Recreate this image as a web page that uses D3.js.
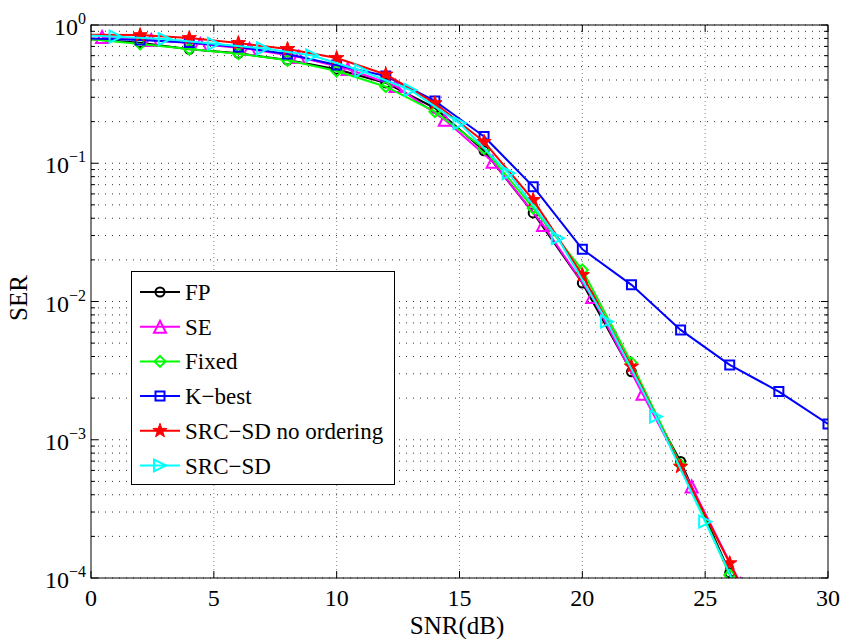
<!DOCTYPE html>
<html><head><meta charset="utf-8">
<script src="https://cdn.jsdelivr.net/npm/d3@7"></script>
<style>body{margin:0;background:#fff}</style>
</head><body>
<svg id="chart" width="843" height="639"></svg>
<script>
// ---- data ----
const xTicks = [0, 5, 10, 15, 20, 25, 30];
const yDecades = [0, -1, -2, -3, -4];
const seriesNames = ["FP", "SE", "Fixed", "K\u2212best", "SRC\u2212SD no ordering", "SRC\u2212SD"];

const snrFP = [0, 2, 4, 6, 8, 10, 12, 14, 16, 18, 20, 22, 24, 26, 28];
const serFP = [0.79, 0.745, 0.667, 0.624, 0.558, 0.478, 0.381, 0.251, 0.123, 0.0437, 0.0136, 0.0031, 0.000696, 0.000109, 0.000017];

const snrSE = [0.45, 2.45, 4.45, 6.45, 8.45, 10.45, 12.4, 14.4, 16.35, 18.4, 20.4, 22.45, 24.45, 26.45];
const serSE = [0.819, 0.779, 0.729, 0.671, 0.587, 0.481, 0.362, 0.206, 0.1027, 0.0358, 0.0108, 0.00215, 0.000459, 0.00009];

const snrFixed = [0, 2, 4, 6, 8, 10, 12, 14, 16, 18, 20, 22, 24, 26, 28];
const serFixed = [0.79, 0.73, 0.67, 0.62, 0.555, 0.465, 0.358, 0.236, 0.128, 0.0473, 0.0169, 0.0036, 0.00066, 0.000105, 0.00002];

const snrKbest = [0, 2, 4, 6, 8, 10, 12, 14, 16, 18, 20, 22, 24, 26, 28, 30];
const serKbest = [0.80, 0.779, 0.747, 0.693, 0.617, 0.514, 0.428, 0.282, 0.156, 0.0677, 0.0239, 0.0132, 0.00623, 0.00348, 0.00223, 0.0013];

const snrNoOrd = [0, 2, 4, 6, 8, 10, 12, 14, 16, 18, 20, 22, 24, 26, 28];
const serNoOrd = [0.85, 0.845, 0.805, 0.741, 0.671, 0.577, 0.439, 0.272, 0.143, 0.0543, 0.01556, 0.00339, 0.00064, 0.000128, 0.000025];

const snrSRC = [0, 1, 3, 5, 7, 9, 11, 13, 15, 17, 19, 21, 23, 25, 27];
const serSRC = [0.84, 0.823, 0.792, 0.731, 0.678, 0.602, 0.467, 0.339, 0.195, 0.0847, 0.0287, 0.00716, 0.00147, 0.000256, 0.000045];

const colors = ["#000000", "#ff00ff", "#00ff00", "#0000ff", "#ff0000", "#00ffff"];
const markerKinds = ["circle", "triup", "diamond", "square", "star", "triright"];

const series = [
  {x: snrFP, y: serFP}, {x: snrSE, y: serSE}, {x: snrFixed, y: serFixed},
  {x: snrKbest, y: serKbest}, {x: snrNoOrd, y: serNoOrd}, {x: snrSRC, y: serSRC}
].map((s, i) => ({name: seriesNames[i], color: colors[i], marker: markerKinds[i],
  pts: s.x.map((v, j) => ({x: v, y: s.y[j]}))}));

// ---- layout ----
const L = 91, R = 828, T = 25, B = 578;
const svg = d3.select("#chart");
const xS = d3.scaleLinear().domain([0, 30]).range([L, R]);
const yS = d3.scaleLog().domain([1e-4, 1]).range([B, T]);
const font = "'Liberation Serif', 'Times New Roman', serif";

svg.append("defs").append("clipPath").attr("id", "clip")
  .append("rect").attr("x", L).attr("y", T).attr("width", R - L).attr("height", B - T);

// grid
const minorVals = [];
for (let e = -4; e < 0; e++) for (let k = 1; k <= 9; k++) minorVals.push(k * Math.pow(10, e));
minorVals.push(1);
const grid = svg.append("g");
grid.selectAll("line.h").data(minorVals).join("line")
  .attr("x1", L).attr("x2", R).attr("y1", d => yS(d)).attr("y2", d => yS(d))
  .attr("stroke", "#333").attr("stroke-width", 1).attr("stroke-dasharray", "1,6");
grid.selectAll("line.v").data(xTicks.slice(1, -1)).join("line")
  .attr("y1", T).attr("y2", B).attr("x1", d => xS(d)).attr("x2", d => xS(d))
  .attr("stroke", "#888").attr("stroke-width", 1).attr("stroke-dasharray", "1,3");

// ticks (inside, all four sides)
const tk = svg.append("g").attr("stroke", "#000").attr("stroke-width", 1);
xTicks.forEach(v => {
  tk.append("line").attr("x1", xS(v)).attr("x2", xS(v)).attr("y1", B).attr("y2", B - 7);
  tk.append("line").attr("x1", xS(v)).attr("x2", xS(v)).attr("y1", T).attr("y2", T + 7);
});
minorVals.forEach(v => {
  const major = Math.abs(Math.log10(v) - Math.round(Math.log10(v))) < 1e-9;
  const len = major ? 7 : 4;
  tk.append("line").attr("x1", L).attr("x2", L + len).attr("y1", yS(v)).attr("y2", yS(v));
  tk.append("line").attr("x1", R).attr("x2", R - len).attr("y1", yS(v)).attr("y2", yS(v));
});

// series
const lineGen = d3.line().x(d => xS(d.x)).y(d => yS(d.y));
function markerPath(kind) {
  switch (kind) {
    case "square": { const s = 4.5; return `M${-s},${-s}H${s}V${s}H${-s}Z`; }
    case "diamond": { const s = 5.5; return `M0,${-s}L${s},0L0,${s}L${-s},0Z`; }
    case "triup": { const s = 6; return `M0,${-s}L${s},${s}L${-s},${s}Z`; }
    case "triright": { const s = 6; return `M${s},0L${-s},${-s}L${-s},${s}Z`; }
    case "star": {
      let p = ""; const Ro = 7.5, Ri = 3;
      for (let i = 0; i < 10; i++) {
        const r = i % 2 ? Ri : Ro; const a = -Math.PI / 2 + i * Math.PI / 5;
        p += (i ? "L" : "M") + (r * Math.cos(a)).toFixed(2) + "," + (r * Math.sin(a)).toFixed(2);
      }
      return p + "Z";
    }
    default: return d3.symbol(d3.symbolCircle, 64)();
  }
}
const plot = svg.append("g").attr("clip-path", "url(#clip)");
series.forEach(s => {
  const g = plot.append("g");
  g.append("path").datum(s.pts).attr("d", lineGen)
    .attr("fill", "none").attr("stroke", s.color).attr("stroke-width", 2).attr("stroke-linejoin", "round");
  g.selectAll("path.m").data(s.pts.filter(d => d.x > 0)).join("path")
    .attr("transform", d => `translate(${xS(d.x)},${yS(d.y)})`)
    .attr("d", markerPath(s.marker))
    .attr("fill", s.marker === "star" ? s.color : "none")
    .attr("stroke", s.color).attr("stroke-width", s.marker === "star" ? 1 : 2)
    .attr("stroke-linejoin", "miter");
});

// frame
svg.append("rect").attr("x", L).attr("y", T).attr("width", R - L).attr("height", B - T)
  .attr("fill", "none").attr("stroke", "#000").attr("stroke-width", 1);

// tick labels
svg.append("g").selectAll("text").data(xTicks).join("text")
  .attr("x", d => xS(d)).attr("y", 606).attr("text-anchor", "middle")
  .attr("font-family", font).attr("font-size", 24).text(d => d);

const yl = svg.append("g").attr("font-family", font);
yDecades.forEach(e => {
  const t = yl.append("text").attr("x", 86).attr("y", yS(Math.pow(10, e)) + 10)
    .attr("font-size", 24).attr("text-anchor", "end");
  t.append("tspan").text("10");
  t.append("tspan").attr("font-size", 16).attr("dy", -11).text(e === 0 ? "0" : "\u2212" + (-e));
});

// axis titles
svg.append("text").attr("x", 457).attr("y", 634).attr("text-anchor", "middle")
  .attr("font-family", font).attr("font-size", 25).text("SNR(dB)");
svg.append("text").attr("transform", "translate(27,298) rotate(-90)").attr("text-anchor", "middle")
  .attr("font-family", font).attr("font-size", 25).text("SER");

// legend
const lg = svg.append("g");
lg.append("rect").attr("x", 131.5).attr("y", 271.5).attr("width", 263).attr("height", 213)
  .attr("fill", "#fff").attr("stroke", "#000").attr("stroke-width", 1);
series.forEach((s, i) => {
  const cy = 292 + i * 34.7;
  lg.append("line").attr("x1", 140).attr("x2", 180).attr("y1", cy).attr("y2", cy)
    .attr("stroke", s.color).attr("stroke-width", 2);
  lg.append("path").attr("transform", `translate(160,${cy})`).attr("d", markerPath(s.marker))
    .attr("fill", s.marker === "star" ? s.color : "none")
    .attr("stroke", s.color).attr("stroke-width", s.marker === "star" ? 1 : 2);
  lg.append("text").attr("x", 185).attr("y", cy + 8).attr("font-family", font).attr("font-size", 23)
    .text(s.name);
});
</script>
</body></html>
